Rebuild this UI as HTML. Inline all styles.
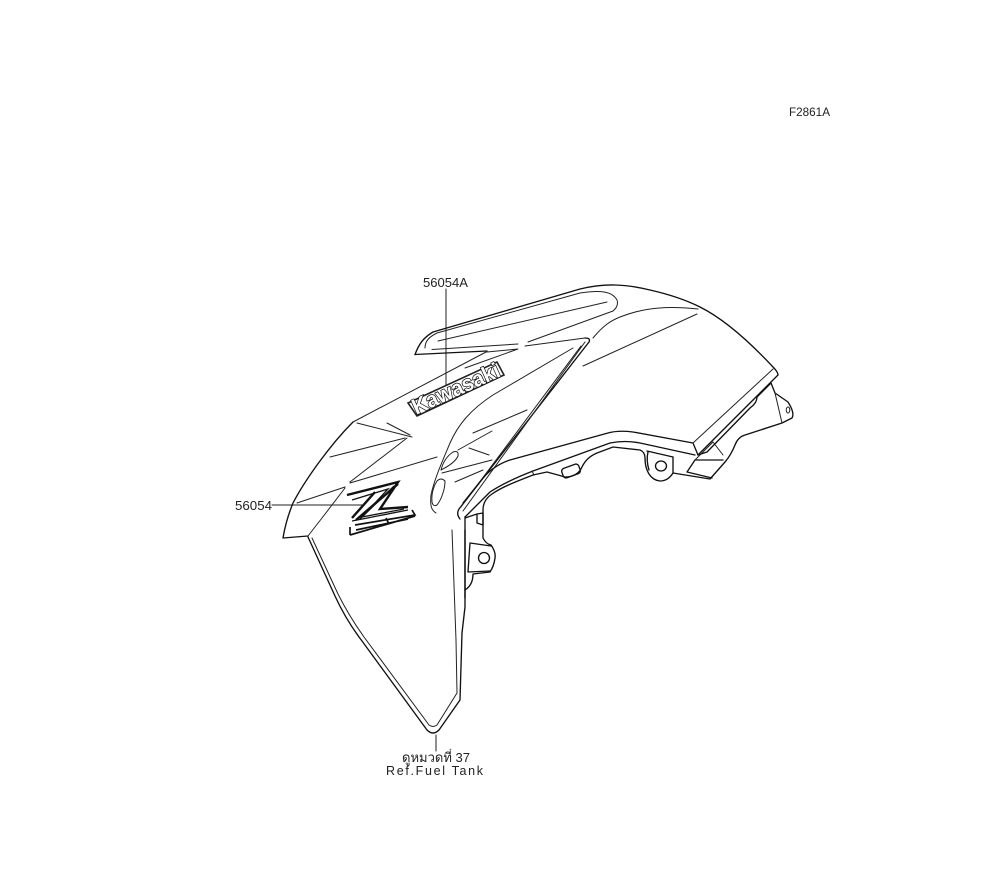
<!DOCTYPE html>
<html><head><meta charset="utf-8"><style>
html,body{margin:0;padding:0;background:#fff}
svg{display:block}
text{font-family:"Liberation Sans","DejaVu Sans","Noto Sans CJK SC",sans-serif;fill:#222}
.l{fill:none;stroke:#222;stroke-width:1;stroke-linejoin:round;stroke-linecap:round}
.t{fill:none;stroke:#111;stroke-width:1.35;stroke-linejoin:round;stroke-linecap:round}
.z{fill:none;stroke:#111;stroke-linejoin:miter}
</style></head><body>
<svg width="1000" height="880" viewBox="0 0 1000 880" xmlns="http://www.w3.org/2000/svg">
<text x="789" y="116" font-size="11.500" textLength="41" lengthAdjust="spacingAndGlyphs">F2861A</text>
<text x="423" y="287" font-size="13" textLength="45" lengthAdjust="spacingAndGlyphs">56054A</text>
<text x="235" y="510" font-size="13" textLength="37" lengthAdjust="spacingAndGlyphs">56054</text>
<text x="402" y="762" font-size="13" textLength="68" lengthAdjust="spacing">ดูหมวดที่ 37</text>
<text x="386" y="775" font-size="12.500" textLength="97" lengthAdjust="spacing">Ref.Fuel Tank</text>

<!-- leaders -->
<path class="l" d="M446 289V390M272 505H362M436 735V751"/>

<!-- top outer -->
<path class="t" d="M415 354.500C419 344 423 338 433 332L580 289C605 283 625 284 650 290C672 295 688 301 700 307C722 318 745 337 773 367Q778 372 778 375"/>
<path class="t" d="M415 354.500L487 351"/>
<path class="l" d="M425 348C425 341 429 337 437 333L580 293C600 290 612 291 617 300Q619 306 613 311"/>
<path class="l" d="M438 341L607 302M528 342L613 311M432 349.500L518 344M518 349L487 352M518 349L465 368M525 346L585 338"/>
<path class="l" d="M487 351.500L353 422"/>
<path class="l" d="M593 338C603 326 610 321 620 317C645 307 670 306 698 309M583 366L697 314"/>

<!-- left panel -->
<path class="t" d="M353 422C330 445 305 480 293 503Q286 520 283 538L308 536"/>
<path class="l" d="M308 536L322 518L345 488M297 503L345 487M350 483L437 457M350 482L407 438M330 457L405 438M357 423L412 437M387 423L410 435"/>

<!-- bottom double line -->
<path class="t" d="M308 537L335 596Q346 620 362 641L427 730Q433 736 439 730L460 700L462 633L465 607L465 530"/>
<path class="l" d="M312 538L338 594Q349 616 364 637L429 725Q433 728 437 725L457 693L456 640L452 530"/>

<!-- inner panel -->
<path class="l" d="M573 348L493 395C470 410 458 425 450 443C442 462 434 480 431 495C430 505 431 510 436 513"/>
<path class="l" d="M441 470Q444 458 453 452Q459 450 458 456Q455 463 441 470Z"/>
<path class="l" d="M432 502C431 492 435 484 437 481Q441 477 445 481C445 490 441 500 437 505Q433 507 432 502Z"/>
<path class="l" d="M473 433L527 410M458 450L492 431M469 448L489 455M442 473L492 460M455 482L483 470"/>

<!-- diagonal strip -->
<path class="t" d="M585 338Q591 338 589 342L459 509Q456 514 460 519"/>
<path class="l" d="M585 342L463 511M581 346L461 507"/>

<!-- right edge and lower -->
<path class="t" d="M778 375L698 455L693 443L633 432C625 431 615 431 608 433L510 460C498 464 490 470 483 478L463 503"/>
<path class="l" d="M773 369L693 443"/>
<path class="t" d="M695 455L640 443C630 441 620 441 610 443L533 471C515 478 502 484 490 492L465 517"/>
<path class="t" d="M533 475C515 482 502 487 492 494Q483 500 483 510V538Q486 544 491 545Q496 552 495 558Q494 566 490 572L473 574Q473 585 465 590"/>
<path class="l" d="M532 471L534 475"/>
<path class="t" d="M533 475L547 472L558 475L565 477Q576 477 581 469C585 460 590 456 597 453L613 447L640 450Q645 452 645 458C645 470 650 480 660 481Q668 481 673 473L710 479L725 462Q731 455 735 445Q738 437 745 435L782 423L792 418Q795 413 788 402L775 393L771 383L757 397Q757 403 750 408L707 452L698 455"/>
<path class="l" d="M775 393L782 423"/>
<ellipse class="l" cx="788" cy="410" rx="1.800" ry="3"/>
<ellipse class="t" cx="661" cy="466" rx="5.500" ry="5"/>
<path class="t" d="M673 457V473M648 452Q646 460 649 470"/>
<path class="t" d="M647 451L673 457M687 472L695 460L723 460M687 472L712 478"/>
<path class="l" d="M713 442L723 455M713 442L695 460"/>
<rect class="t" x="562" y="466" width="18" height="10" rx="3" transform="rotate(-20 571 471)"/>

<!-- lower-left bracket -->
<path class="t" d="M465 517V598M465 518L477 514V523L483 525M477 514L483 513L483 525"/>
<path class="t" d="M470 543L491 546M470 543L468 572L490 571"/>
<circle class="t" cx="484" cy="558" r="5.500"/>

<!-- Kawasaki logo -->
<path d="M408 403L497 362L504 375L417 416Z" fill="#fff" stroke="#222" stroke-width="1.600"/>
<text x="456" y="396" font-size="22" font-weight="bold" text-anchor="middle" textLength="94" lengthAdjust="spacingAndGlyphs" transform="rotate(-24.500 456 389)" style="fill:#fff;stroke:#111;stroke-width:1.500;paint-order:stroke fill">Kawasaki</text>

<!-- Z logo -->
<path class="z" stroke-width="2.400" d="M347 495L398 482L380 509L408 507M375 492L352 518M398 484L356 520"/>
<path class="z" stroke-width="1.300" d="M352 500L388 489L362 517L404 509M352 521L408 510M394 486L360 519"/>
<path class="z" stroke-width="1.700" d="M355 525L415 515L412 510M350 535L415 516M356 530L408 519M386 518L389 524M350 527V535"/>
</svg>
</body></html>
